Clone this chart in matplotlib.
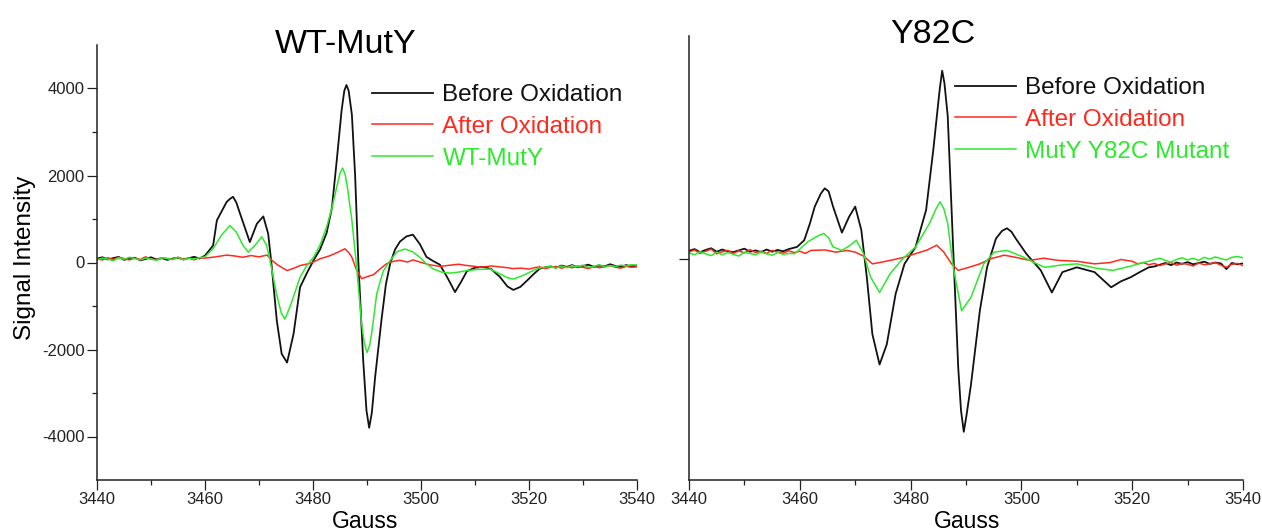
import numpy as np
import matplotlib
matplotlib.use("Agg")
import matplotlib.pyplot as plt
from matplotlib.ticker import FixedLocator, NullFormatter

plt.rcParams['font.family'] = ['Liberation Sans', 'DejaVu Sans']
plt.rcParams['axes.unicode_minus'] = False

W, H = 1262, 531

# ---- WT-MutY panel (Gauss, signal) ----
wt_before_x = (list(range(3440, 3461)) +
               [3461.5, 3462.2, 3464.0, 3464.6, 3465.2, 3465.8, 3466.5, 3468.3, 3469.6, 3470.8,
                3471.7, 3472.3, 3473.3, 3474.2, 3475.2, 3476.4, 3477.6, 3478.8, 3480.1, 3481.3,
                3482.5, 3483.5, 3484.4, 3485.3, 3485.8, 3486.2, 3486.6, 3487.2, 3487.8, 3488.4,
                3489.3, 3489.9, 3490.4, 3490.9, 3491.5, 3492.7, 3493.5, 3494.3, 3495.2, 3496.1,
                3497.3, 3498.5, 3499.8, 3501.0, 3502.3, 3503.5, 3504.9, 3506.3, 3507.4, 3508.5,
                3510.0, 3511.5, 3513.0, 3514.6, 3516.0, 3517.1, 3518.4, 3519.6, 3521.0] +
               list(range(3522, 3541)))
wt_before_y = ([90, 120, 70, 100, 130, 60, 90, 110, 50, 80, 120, 70, 100, 60, 90, 110, 70, 100,
                130, 90, 160] +
               [390, 970, 1390, 1460, 1510, 1380, 1120, 470, 890, 1060,
                660, -20, -1340, -2100, -2300, -1640, -570, -260, 50, 300,
                670, 1250, 2350, 3500, 3950, 4080, 3950, 3400, 2000, 0,
                -2260, -3400, -3800, -3450, -2640, -1300, -500, -20, 300, 480,
                600, 640, 420, 130, 30, -50, -350, -680, -450, -200,
                -120, -100, -150, -330, -550, -630, -560, -420, -250] +
               [-140, -110, -90, -120, -70, -100, -60, -110, -80, -50, -100, -70, -90, -40, -80,
                -100, -60, -90, -70])

wt_after_x = (list(range(3440, 3461)) +
              [3462, 3464, 3465.5, 3467, 3468.5, 3470, 3471.5, 3472.3, 3473.5, 3475.2, 3476.5,
               3477.6, 3479.5, 3481.3, 3483, 3484.5, 3485.9, 3486.6, 3487.2, 3488, 3489, 3490.2,
               3491.2, 3492.4, 3493.6, 3495, 3496.1, 3497.5, 3498.5, 3499.8, 3501.5, 3503.5,
               3505.5, 3507, 3508.5, 3510, 3511, 3513, 3514.6, 3516, 3517, 3518.5] +
              list(range(3520, 3541)))
wt_after_y = ([80, 60, 110, 70, 120, 90, 60, 100, 70, 130, 80, 60, 110, 90, 70, 120, 80, 100,
               60, 110, 100] +
              [130, 170, 150, 120, 160, 130, 170, 60, -60, -185, -130,
               -70, -20, 85, 150, 230, 315, 230, 120, -150, -370, -320,
               -280, -150, -30, 30, 50, 10, 60, 10, -50, -90,
               -60, -40, -70, -90, -110, -80, -100, -120, -140, -130] +
              [-150, -120, -100, -140, -110, -90, -130, -100, -120, -80, -110, -140, -90, -120,
               -100, -70, -110, -130, -90, -110, -100])

wt_mut_x = (list(range(3440, 3461)) +
            [3461.5, 3463, 3464.6, 3465.8, 3467, 3468, 3469.3, 3470.5, 3471.4, 3472.2, 3473.2,
             3474.1, 3474.8, 3475.8, 3477.6, 3478.8, 3480.1, 3481.3, 3482.5, 3483.5, 3484.4,
             3485.0, 3485.5, 3486.0, 3486.4, 3487.2, 3488, 3489, 3489.5, 3490, 3490.5, 3490.9,
             3491.8, 3493, 3494.3, 3495.6, 3497, 3498.4, 3499.8, 3501, 3502.3, 3503.8, 3505.4,
             3507, 3508.5, 3510.5, 3512.8, 3514.6, 3516, 3517.1, 3518.5, 3520, 3521.4, 3522.2] +
            list(range(3523, 3541)))
wt_mut_y = ([60, 100, 80, 40, 110, 70, 120, 90, 60, 100, 80, 50, 110, 90, 70, 120, 60, 100,
             80, 110, 130] +
            [315, 620, 850, 700, 400, 240, 400, 590, 400, -50, -700,
             -1150, -1300, -1000, -340, -80, 120, 400, 810, 1250, 1735,
             2050, 2170, 2000, 1700, 970, 0, -1400, -1850, -2070, -1900, -1600,
             -720, -200, 50, 250, 310, 250, 120, -30, -150, -220, -245,
             -220, -185, -160, -150, -260, -350, -380, -320, -230, -150, -120] +
            [-110, -90, -130, -80, -120, -70, -100, -60, -110, -90, -50, -100, -70, -90, -60,
             -80, -50, -60])

# ---- Y82C panel ----
y82_before_x = (list(range(3440, 3459)) +
                [3459.5, 3460.8, 3461.8, 3462.7, 3463.8, 3464.5, 3465.2, 3466, 3467.6, 3468.9,
                 3470, 3471.1, 3472.1, 3473.1, 3474.4, 3475.7, 3477.3, 3478.9, 3480.9, 3482.8,
                 3484.1, 3485, 3485.3, 3485.7, 3486.1, 3486.7, 3487.7, 3488.6, 3489.1, 3489.6,
                 3490.1, 3490.9, 3492.5, 3493.8, 3495.4, 3496.5, 3497.4, 3498.2, 3499, 3500.9,
                 3503.5, 3505.5, 3507.4, 3510, 3513.2, 3516.2, 3518, 3519.7, 3521.5, 3523] +
                list(range(3524, 3541)))
y82_before_y = ([180, 220, 150, 200, 240, 160, 210, 170, 150, 190, 230, 160, 190, 150, 210, 160,
                 200, 170, 220] +
                [270, 424, 800, 1200, 1500, 1620, 1550, 1200, 600, 965,
                 1200, 660, -430, -1740, -2440, -1975, -810, -120, 270, 1120,
                 2510, 3600, 3950, 4330, 4050, 3290, 190, -2520, -3500, -3990,
                 -3600, -2900, -1200, -200, 460, 640, 700, 620, 460, 110,
                 -270, -780, -310, -200, -310, -660, -520, -430, -300, -200] +
                [-180, -140, -100, -150, -90, -120, -80, -130, -100, -70, -120, -90, -110, -240,
                 -100, -130, -110])

y82_after_x = (list(range(3440, 3463)) +
               [3464.6, 3466.5, 3468.5, 3470, 3471.5, 3473.1, 3474.8, 3476.3, 3478.5, 3480.9,
                3483, 3484.7, 3486, 3487.4, 3488.6, 3490.5, 3492.5, 3494.5, 3496.9, 3499,
                3501.5, 3504, 3506.7, 3510, 3513.2, 3516, 3518] +
               list(range(3520, 3541)))
y82_after_y = ([150, 200, 120, 170, 220, 110, 160, 190, 120, 180, 130, 210, 140, 170, 120, 190,
                150, 130, 180, 140, 170, 120, 190] +
               [200, 150, 190, 150, 60, -120, -80, -40, 20, 115,
                200, 310, 150, -120, -270, -200, -120, 0, 80, 30,
                -40, 10, -40, -60, -120, -90, -20] +
               [-60, -120, -90, -140, -110, -160, -120, -90, -150, -110, -130, -170, -100, -140,
                -120, -90, -150, -200, -130, -110, -160])

y82_mut_x = (list(range(3440, 3459)) +
             [3459.1, 3461.4, 3463.2, 3464.3, 3465.2, 3466, 3467.6, 3469, 3470.2, 3471.5,
              3472.8, 3474.4, 3476.3, 3478.3, 3480.9, 3483.4, 3484.6, 3485.3, 3486, 3486.7,
              3487.7, 3489.2, 3490.9, 3493.2, 3495.1, 3497.4, 3500.3, 3502.3, 3504.2, 3507,
              3510, 3513.5, 3516.5, 3519.5, 3522] +
             list(range(3523, 3541)))
y82_mut_y = ([130, 90, 160, 110, 70, 150, 90, 140, 100, 60, 150, 120, 90, 150, 110, 80, 140,
              100, 120] +
             [115, 385, 520, 580, 480, 270, 190, 300, 424, 115,
              -430, -780, -350, -40, 270, 810, 1150, 1310, 1150, 810,
              -200, -1200, -890, -120, 150, 190, 40, -90, -200, -150,
              -120, -220, -270, -180, -90] +
             [-60, -20, 10, -40, -80, -20, 20, -30, 10, -40, 30, -10, 40, 0, -30, 30, 50, 20])

x_major = [3440, 3460, 3480, 3500, 3520, 3540]
x_minor = [3450, 3470, 3490, 3510, 3530]
y_major = [-4000, -2000, 0, 2000, 4000]
y_minor = [-3000, -1000, 1000, 3000]

black = '#111111'
red = '#ff2a1f'
green = '#2ee82e'

fig = plt.figure(figsize=(W / 100, H / 100), dpi=100)
ax1 = fig.add_axes([97 / W, 1 - 480 / H, 540 / W, 435 / H])
ax2 = fig.add_axes([689 / W, 1 - 480 / H, 554 / W, 444 / H])


def style_axis(ax):
    for side in ['top', 'right']:
        ax.spines[side].set_visible(False)
    for side in ['left', 'bottom']:
        ax.spines[side].set_linewidth(1.1)
        ax.spines[side].set_color('#222222')
    ax.set_xlim(3440, 3540)
    ax.xaxis.set_major_locator(FixedLocator(x_major))
    ax.xaxis.set_minor_locator(FixedLocator(x_minor))
    ax.tick_params(axis='both', which='major', direction='out', length=7, width=0.9,
                   labelsize=12, pad=2, colors='#222222')
    ax.tick_params(axis='both', which='minor', direction='out', length=3.5, width=0.9,
                   colors='#222222')


# left panel
ax1.plot(wt_before_x, wt_before_y, color=black, lw=1.3, label='Before Oxidation')
ax1.plot(wt_after_x, wt_after_y, color=red, lw=1.1, label='After Oxidation')
ax1.plot(wt_mut_x, wt_mut_y, color=green, lw=1.1, label='WT-MutY')
style_axis(ax1)
ax1.set_ylim(-5000, 5000)
ax1.yaxis.set_major_locator(FixedLocator(y_major))
ax1.yaxis.set_minor_locator(FixedLocator(y_minor))

# right panel
ax2.plot(y82_before_x, y82_before_y, color=black, lw=1.3, label='Before Oxidation')
ax2.plot(y82_after_x, y82_after_y, color=red, lw=1.1, label='After Oxidation')
ax2.plot(y82_mut_x, y82_mut_y, color=green, lw=1.1, label='MutY Y82C Mutant')
style_axis(ax2)
ax2.set_ylim(-5100, 5130)
ax2.yaxis.set_major_locator(FixedLocator([0]))
ax2.yaxis.set_major_formatter(NullFormatter())
ax2.yaxis.set_minor_locator(FixedLocator([]))

leg_kw = dict(loc='upper left', bbox_transform=fig.transFigure, frameon=False,
              fontsize=17.5, handlelength=2.5, handletextpad=0.4, labelspacing=0.41,
              borderpad=0, borderaxespad=0, labelcolor='linecolor')
ax1.legend(bbox_to_anchor=(372 / W, 1 - 84 / H), **leg_kw)
ax2.legend(bbox_to_anchor=(955 / W, 1 - 77 / H), **leg_kw)

# titles and axis labels
fig.text(346 / W, 1 - 53 / H, 'WT-MutY', fontsize=24.5, ha='center', va='baseline')
fig.text(933 / W, 1 - 43 / H, 'Y82C', fontsize=24.5, ha='center', va='baseline')
fig.text(25 / W, 1 - 258 / H, 'Signal Intensity', fontsize=17.5, rotation=90,
         ha='center', va='center')
fig.text(365 / W, 1 - 528 / H, 'Gauss', fontsize=16.5, ha='center', va='baseline')
fig.text(967 / W, 1 - 528 / H, 'Gauss', fontsize=16.5, ha='center', va='baseline')

fig.savefig('out.png', dpi=100)
